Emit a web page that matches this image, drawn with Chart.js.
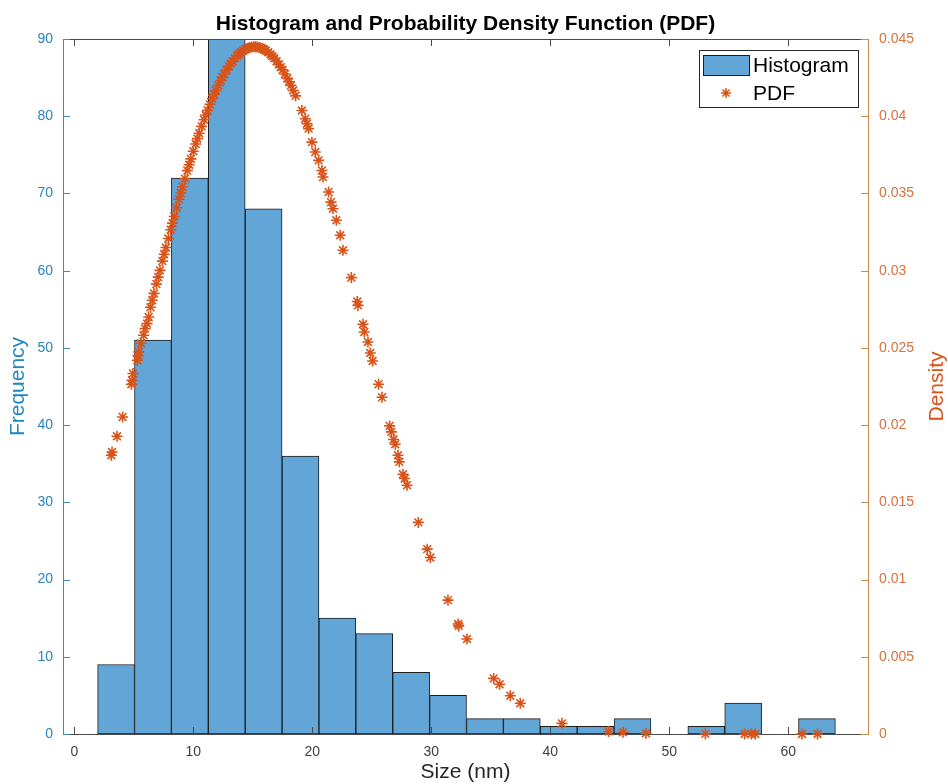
<!DOCTYPE html>
<html>
<head>
<meta charset="utf-8">
<title>Histogram and Probability Density Function (PDF)</title>
<script src="https://cdn.jsdelivr.net/npm/chart.js@4.4.1/dist/chart.umd.min.js"></script>
<style>
  html, body { margin: 0; padding: 0; background: #fff; }
  #wrap { width: 948px; height: 784px; }
</style>
</head>
<body>
<div id="wrap"><canvas id="histChart" width="948" height="784"></canvas></div>
<script>
// histogram bins (centre of each 3.1 nm bin) and counts
const binCenters = [3.51, 6.61, 9.71, 12.81, 15.91, 19.01, 22.11, 25.21, 28.31, 31.41,
                    34.51, 37.61, 40.71, 43.81, 46.91, 50.01, 53.11, 56.21, 59.31, 62.41];
const binCounts = [9, 51, 72, 90, 68, 36, 15, 13, 8, 5,
                   2, 2, 1, 1, 2, 0, 1, 4, 0, 2];

// PDF markers (size in nm, density)
const pdfX = [
  3.11, 3.17, 3.59, 4.06, 4.80, 4.85, 4.93, 5.30, 5.36, 5.42, 5.60, 5.82, 5.95, 6.11,
  6.25, 6.40, 6.55, 6.70, 6.90, 7.05, 7.20, 7.40, 7.55, 7.70,
  7.90, 8.10, 8.25, 8.40, 8.60, 8.80, 8.95, 9.10, 9.30, 9.50,
  9.65, 9.80, 10.00, 10.20, 10.35, 10.50, 10.70, 10.90, 11.05, 11.20,
  11.40, 11.60, 11.75, 11.90, 12.10, 12.30, 12.45, 12.60, 12.80, 13.00,
  13.15, 13.30, 13.50, 13.70, 13.85, 14.00, 14.20, 14.40, 14.55, 14.70,
  14.90, 15.10, 15.25, 15.40, 15.60, 15.80, 15.95, 16.10, 16.30, 16.50,
  16.65, 16.80, 17.00, 17.20, 17.35, 17.50, 17.70, 17.90, 18.05, 18.20,
  18.40, 18.60,
  19.13, 19.41, 19.55, 19.69, 19.97, 20.25, 20.53, 20.81, 20.90, 21.37,
  21.57, 21.74, 22.02, 22.35, 22.58, 23.28, 23.78, 23.84, 24.26, 24.37,
  24.68, 24.87, 25.07, 25.57, 25.86, 26.50, 26.64, 26.83, 26.97, 27.20,
  27.31, 27.62, 27.76, 27.96, 28.91, 29.66, 29.92, 31.40, 32.25, 32.31,
  33.00, 35.24, 35.74, 36.64, 37.48, 40.98, 44.90, 46.11, 48.04, 53.03,
  56.33, 56.89, 57.23, 61.15, 62.46
];
const pdfY = [
  0.01805, 0.01826, 0.01928, 0.02053, 0.02265, 0.02290, 0.02334, 0.02420, 0.02450, 0.02474, 0.02530, 0.02582, 0.02625, 0.02657,
  0.02700, 0.02763, 0.02808, 0.02853, 0.02913, 0.02958, 0.03002, 0.03062, 0.03106, 0.03150,
  0.03208, 0.03265, 0.03308, 0.03351, 0.03407, 0.03462, 0.03503, 0.03543, 0.03596, 0.03648,
  0.03686, 0.03724, 0.03773, 0.03820, 0.03855, 0.03890, 0.03934, 0.03977, 0.04008, 0.04038,
  0.04077, 0.04114, 0.04141, 0.04167, 0.04200, 0.04231, 0.04253, 0.04273, 0.04300, 0.04324,
  0.04341, 0.04356, 0.04375, 0.04392, 0.04403, 0.04414, 0.04425, 0.04434, 0.04440, 0.04444,
  0.04448, 0.04450, 0.04450, 0.04448, 0.04444, 0.04438, 0.04432, 0.04425, 0.04414, 0.04400,
  0.04388, 0.04375, 0.04356, 0.04335, 0.04318, 0.04300, 0.04273, 0.04245, 0.04223, 0.04200,
  0.04167, 0.04132,
  0.04037, 0.03984, 0.03951, 0.03920, 0.03832, 0.03768, 0.03714, 0.03649, 0.03606, 0.03509,
  0.03444, 0.03401, 0.03326, 0.03229, 0.03132, 0.02955, 0.02800, 0.02775, 0.02653, 0.02603,
  0.02538, 0.02467, 0.02415, 0.02265, 0.02180, 0.01995, 0.01956, 0.01907, 0.01876, 0.01805,
  0.01762, 0.01682, 0.01654, 0.01611, 0.01370, 0.01197, 0.01143, 0.00867, 0.00712, 0.00700,
  0.00615, 0.00360, 0.00322, 0.00248, 0.00199, 0.00069, 0.00016, 0.00011, 0.00005, 0.000006,
  0.0000008, 0.0000005, 0.0000004, 0.00000003, 0.00000001
];

// axis ticks
const xTicks = [0, 10, 20, 30, 40, 50, 60];
const freqTicks = [0, 10, 20, 30, 40, 50, 60, 70, 80, 90];
const densityTicks = [0, 0.005, 0.01, 0.015, 0.02, 0.025, 0.03, 0.035, 0.04, 0.045];
const densityTickLabels = ["0", "0.005", "0.01", "0.015", "0.02", "0.025", "0.03", "0.035", "0.04", "0.045"];

const FONT = "'Liberation Sans', Arial, Helvetica, sans-serif";
const BAR_FILL = "#62a5d7";
const BAR_EDGE = "#1c1c1c";
const PDF_COLOR = "#d95319";
const LEFT_COLOR = "#2a84c0";
const LEFT_AXIS = "#3a8cb4";
const RIGHT_COLOR = "#d5733f";
const RIGHT_AXIS = "#c98a50";
const AXIS_GRAY = "#4a4a4a";

// MATLAB-like frame: inward ticks, top box line, title, right label, legend
const matlabFrame = {
  id: "matlabFrame",
  afterDatasetsDraw(chart) {
    const { ctx, chartArea: a, scales } = chart;
    const len = 7;
    ctx.save();
    ctx.lineWidth = 1;

    ctx.strokeStyle = AXIS_GRAY;
    ctx.beginPath();
    ctx.moveTo(a.left, a.top + 0.5);
    ctx.lineTo(a.right, a.top + 0.5);
    for (const v of xTicks) {
      const x = Math.round(scales.x.getPixelForValue(v)) + 0.5;
      ctx.moveTo(x, a.bottom);
      ctx.lineTo(x, a.bottom - len);
      ctx.moveTo(x, a.top);
      ctx.lineTo(x, a.top + len);
    }
    ctx.stroke();

    ctx.strokeStyle = LEFT_AXIS;
    ctx.beginPath();
    for (const v of freqTicks) {
      const y = Math.round(scales.y.getPixelForValue(v)) + 0.5;
      ctx.moveTo(a.left, y);
      ctx.lineTo(a.left + len, y);
    }
    ctx.stroke();

    ctx.strokeStyle = RIGHT_AXIS;
    ctx.beginPath();
    for (const v of densityTicks) {
      const y = Math.round(scales.y1.getPixelForValue(v)) + 0.5;
      ctx.moveTo(a.right, y);
      ctx.lineTo(a.right - len, y);
    }
    ctx.stroke();
    ctx.restore();
  },
  afterDraw(chart) {
    const { ctx, chartArea: a } = chart;
    ctx.save();

    // title
    ctx.fillStyle = "#000";
    ctx.font = `bold 21px ${FONT}`;
    ctx.textAlign = "center";
    ctx.textBaseline = "alphabetic";
    ctx.fillText("Histogram and Probability Density Function (PDF)", (a.left + a.right) / 2, 30);

    // right axis label, reads bottom to top
    ctx.save();
    ctx.translate(chart.width - 10.5, (a.top + a.bottom) / 2);
    ctx.rotate(-Math.PI / 2);
    ctx.fillStyle = PDF_COLOR;
    ctx.font = `21px ${FONT}`;
    ctx.textBaseline = "middle";
    ctx.fillText("Density", 0, 0);
    ctx.restore();

    // legend box
    const lw = 159, lh = 57;
    const lx = Math.round(a.right - 10 - lw), ly = Math.round(a.top + 11);
    ctx.fillStyle = "#fff";
    ctx.fillRect(lx, ly, lw, lh);
    ctx.strokeStyle = "#262626";
    ctx.lineWidth = 1;
    ctx.strokeRect(lx + 0.5, ly + 0.5, lw, lh);

    ctx.fillStyle = BAR_FILL;
    ctx.fillRect(lx + 4, ly + 5, 46, 20);
    ctx.strokeStyle = BAR_EDGE;
    ctx.strokeRect(lx + 4.5, ly + 5.5, 46, 20);

    ctx.strokeStyle = PDF_COLOR;
    ctx.lineWidth = 1.5;
    Chart.helpers.drawPoint(ctx, { pointStyle: "star", radius: 5, borderWidth: 1.5, rotation: 0 }, lx + 27, ly + 43);

    ctx.fillStyle = "#000";
    ctx.font = `21px ${FONT}`;
    ctx.textAlign = "left";
    ctx.textBaseline = "middle";
    ctx.fillText("Histogram", lx + 54, ly + 16);
    ctx.fillText("PDF", lx + 54, ly + 44);
    ctx.restore();
  }
};
Chart.register(matlabFrame);

const chart = new Chart(document.getElementById("histChart"), {
  type: "bar",
  data: {
    datasets: [
      {
        type: "scatter",
        label: "PDF",
        data: pdfX.map((x, i) => ({ x, y: pdfY[i] })),
        yAxisID: "y1",
        pointStyle: "star",
        pointRadius: 5.5,
        borderWidth: 1.6,
        borderColor: PDF_COLOR,
        backgroundColor: PDF_COLOR,
        clip: false,
        order: 0
      },
      {
        type: "bar",
        label: "Histogram",
        data: binCenters.map((x, i) => ({ x, y: binCounts[i] })),
        yAxisID: "y",
        backgroundColor: BAR_FILL,
        borderColor: BAR_EDGE,
        borderWidth: 1,
        borderSkipped: false,
        barPercentage: 1,
        categoryPercentage: 1,
        order: 1
      }
    ]
  },
  options: {
    responsive: false,
    animation: false,
    layout: { padding: { top: 39, left: 0, right: 0, bottom: 0 } },
    plugins: {
      legend: { display: false },
      title: { display: false },
      tooltip: { enabled: false }
    },
    scales: {
      x: {
        type: "linear",
        min: -0.95,
        max: 66.7,
        offset: false,
        grid: { display: false, drawTicks: false },
        border: { display: true, color: AXIS_GRAY, width: 1 },
        ticks: { color: "#404040", font: { family: FONT, size: 14 }, padding: 10, maxRotation: 0, autoSkip: false },
        afterBuildTicks: (s) => { s.ticks = xTicks.map((v) => ({ value: v })); },
        afterFit: (s) => { s.height = 50; },
        title: {
          display: true, text: "Size (nm)", color: "#262626",
          font: { family: FONT, size: 21, lineHeight: 1 }, padding: { top: 0, bottom: 1 }
        }
      },
      y: {
        position: "left",
        min: 0,
        max: 90,
        grid: { display: false, drawTicks: false },
        border: { display: true, color: LEFT_AXIS, width: 1 },
        ticks: { color: LEFT_COLOR, font: { family: FONT, size: 14 }, padding: 10 },
        afterBuildTicks: (s) => { s.ticks = freqTicks.map((v) => ({ value: v })); },
        afterFit: (s) => { s.width = 63; },
        title: {
          display: true, text: "Frequency", color: "#1f87c0",
          font: { family: FONT, size: 21, lineHeight: 1 }, padding: { top: 8, bottom: 0 }
        }
      },
      y1: {
        position: "right",
        min: 0,
        max: 0.045,
        grid: { display: false, drawTicks: false },
        border: { display: true, color: RIGHT_AXIS, width: 1 },
        ticks: {
          color: RIGHT_COLOR, font: { family: FONT, size: 14 }, padding: 11,
          callback: (v, i) => densityTickLabels[i]
        },
        afterBuildTicks: (s) => { s.ticks = densityTicks.map((v) => ({ value: v })); },
        afterFit: (s) => { s.width = 80; }
      }
    }
  }
});
</script>
</body>
</html>
